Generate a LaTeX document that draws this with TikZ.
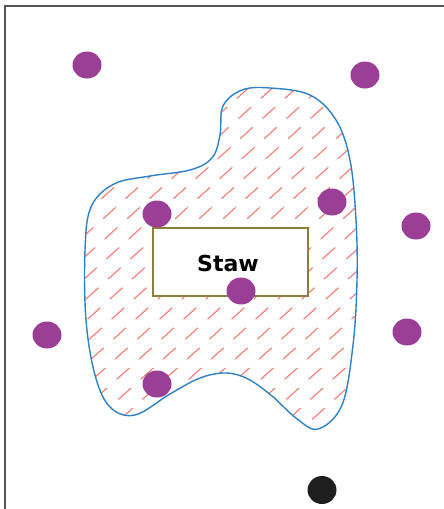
\documentclass[tikz,border=0pt]{standalone}
\usepackage{fontspec}
\newfontfamily\labelfont{DejaVu Sans}
\usetikzlibrary{shapes.geometric}
\definecolor{dotpurple}{HTML}{9B3F96}
\definecolor{blobblue}{HTML}{2F80C4}
\definecolor{hatchred}{HTML}{F27A72}
\definecolor{boxolive}{HTML}{8E7E3C}
\definecolor{framegray}{HTML}{555555}
\tikzset{
  dot/.style={ellipse, fill=dotpurple, draw=none, minimum width=29pt, minimum height=27pt, inner sep=0pt},
  blackdot/.style={ellipse, fill=black!88, draw=none, minimum width=29pt, minimum height=28pt, inner sep=0pt},
  hatchline/.style={draw=hatchred, line width=1.1pt, dash pattern=on 17pt off 13pt},
  outline/.style={draw=blobblue, line width=1.4pt},
  stawbox/.style={rectangle, draw=boxolive, line width=1.1pt, fill=white, minimum width=155pt, minimum height=68pt, inner sep=0pt},
  framestyle/.style={draw=framegray, line width=1.4pt}
}
\begin{document}
\begin{tikzpicture}[x=1pt,y=-1pt]
\useasboundingbox (0,0) rectangle (444,509);
% frame
\draw[framestyle] (5,509) -- (5,6) -- (444,6);
% blob
\def\blobpath{plot[smooth cycle, tension=0.6] coordinates {(270,88) (310,95) (336,120) (350,160) (356,220) (357,280) (353,345) (342,405) (318,429) (296,418) (272,396) (248,379) (226,373) (200,378) (170,394) (135,415) (110,407) (95,375) (86,320) (85,250) (91,207) (114,184) (150,176) (190,170) (212,158) (220,135) (223,106) (242,90)}}
\begin{scope}
  \clip \blobpath;
  \foreach \i in {-14,...,32} {
    \draw[hatchline] (\i*24-300, 560) -- ++(550,-495);
  }
\end{scope}
\draw[outline] \blobpath;
% box
\node[stawbox] (box) at (230.5,262) {};
\node[font=\labelfont\bfseries\fontsize{22}{26}\selectfont, inner sep=0pt] (staw) at (228,263) {Staw};
% dots
\node[dot] (d1) at (87,65) {};
\node[dot] (d2) at (365,75) {};
\node[dot] (d3) at (157,214) {};
\node[dot] (d4) at (332,202) {};
\node[dot] (d5) at (416,226) {};
\node[dot] (d6) at (241,291) {};
\node[dot] (d7) at (47,335) {};
\node[dot] (d8) at (407,332) {};
\node[dot] (d9) at (157,384) {};
\node[blackdot] (b1) at (322,490) {};
\end{tikzpicture}
\end{document}
